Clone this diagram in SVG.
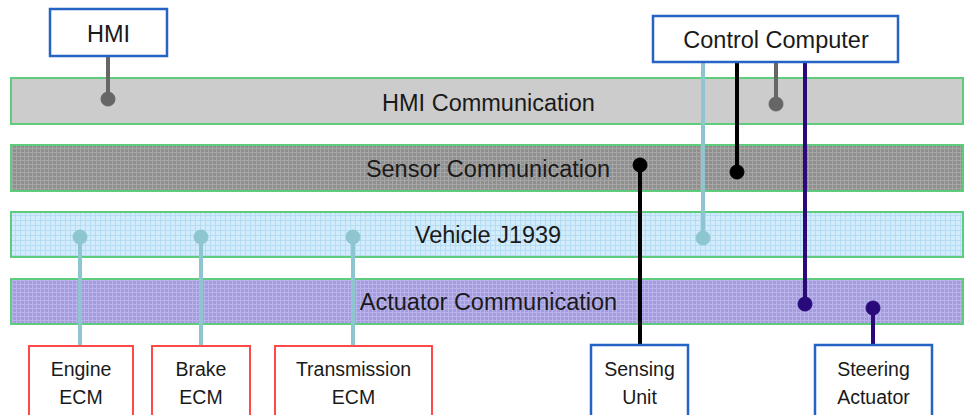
<svg xmlns="http://www.w3.org/2000/svg" width="964" height="415" viewBox="0 0 964 415">
<defs>
<pattern id="pSensor" width="4" height="4" patternUnits="userSpaceOnUse">
<rect width="4" height="4" fill="#8f8f8f"/>
<path d="M0 0.5H4M0.5 0V4" stroke="#a6a6a6" stroke-width="1"/>
</pattern>
<pattern id="pVehicle" width="5" height="5" patternUnits="userSpaceOnUse">
<rect width="5" height="5" fill="#d2ecfb"/>
<path d="M0 0.5H5M0.5 0V5" stroke="#b6dcf3" stroke-width="1"/>
</pattern>
<pattern id="pAct" width="4" height="4" patternUnits="userSpaceOnUse">
<rect width="4" height="4" fill="#a49ce0"/>
<path d="M0 0.5H4M0.5 0V4" stroke="#b9b3ea" stroke-width="1"/>
</pattern>
</defs>
<style>
.bar{stroke:#5fcb7d;stroke-width:2}
.bbox{fill:#fff;stroke:#2563c4;stroke-width:2.5}
.rbox{fill:#fff;stroke:#ff4848;stroke-width:2}
.t{font-family:"Liberation Sans",Arial,sans-serif;font-size:23.5px;fill:#1a1a1a;text-anchor:middle}
.s{font-family:"Liberation Sans",Arial,sans-serif;font-size:19.5px;fill:#1a1a1a;text-anchor:middle}
.c{fill:none;stroke-width:4}
</style>
<g id="bus-hmi"><rect class="bar" x="11" y="78" width="952" height="46" fill="#cccccc"/><text class="t" x="488.5" y="111">HMI Communication</text></g>
<g id="bus-sensor"><rect class="bar" x="11" y="145" width="952" height="46" fill="url(#pSensor)"/><text class="t" x="488" y="177">Sensor Communication</text></g>
<g id="bus-vehicle"><rect class="bar" x="11" y="212" width="952" height="45" fill="url(#pVehicle)"/><text class="t" x="488" y="243">Vehicle J1939</text></g>
<g id="bus-actuator"><rect class="bar" x="11" y="279" width="952" height="45" fill="url(#pAct)"/><text class="t" x="488.5" y="310">Actuator Communication</text></g>
<g id="connectors">
<g stroke="#666666" fill="#666666"><line class="c" x1="108" y1="56" x2="108" y2="99"/><circle cx="108" cy="99" r="7"/>
<line class="c" x1="776" y1="62" x2="776" y2="104"/><circle cx="776" cy="104" r="7"/></g>
<g stroke="#8ec6cf" fill="#8ec6cf">
<line class="c" x1="80" y1="346" x2="80" y2="237"/><circle cx="80" cy="237" r="7"/>
<line class="c" x1="201" y1="346" x2="201" y2="237"/><circle cx="201" cy="237" r="7"/>
<line class="c" x1="353" y1="346" x2="353" y2="237"/><circle cx="353" cy="237" r="7"/>
<line class="c" x1="703" y1="62" x2="703" y2="238"/><circle cx="703" cy="238" r="7"/></g>
<g stroke="#000000" fill="#000000">
<line class="c" x1="737" y1="62" x2="737" y2="172"/><circle cx="737" cy="172" r="7"/>
<line class="c" x1="640" y1="345" x2="640" y2="165"/><circle cx="640" cy="165" r="7"/></g>
<g stroke="#2a0a7a" fill="#2a0a7a">
<line class="c" x1="805" y1="62" x2="805" y2="304"/><circle cx="805" cy="304" r="7"/>
<line class="c" x1="873" y1="345" x2="873" y2="308"/><circle cx="873" cy="308" r="7"/></g>
</g>
<g id="hmi"><rect class="bbox" x="50" y="9" width="117" height="47"/><text class="t" x="108.5" y="42">HMI</text></g>
<g id="control-computer"><rect class="bbox" x="653" y="16" width="245" height="46"/><text class="t" x="776" y="48">Control Computer</text></g>
<g id="engine-ecm"><rect class="rbox" x="29" y="346" width="104" height="80"/><text class="s" x="81" y="376">Engine</text><text class="s" x="81" y="404">ECM</text></g>
<g id="brake-ecm"><rect class="rbox" x="152" y="346" width="98" height="80"/><text class="s" x="201" y="376">Brake</text><text class="s" x="201" y="404">ECM</text></g>
<g id="transmission-ecm"><rect class="rbox" x="275" y="346" width="157" height="80"/><text class="s" x="353.5" y="376">Transmission</text><text class="s" x="353.5" y="404">ECM</text></g>
<g id="sensing-unit"><rect class="bbox" x="591" y="345" width="97" height="80"/><text class="s" x="639.5" y="376">Sensing</text><text class="s" x="639.5" y="404">Unit</text></g>
<g id="steering-actuator"><rect class="bbox" x="815" y="345" width="117" height="80"/><text class="s" x="873.5" y="376">Steering</text><text class="s" x="873.5" y="404">Actuator</text></g>
</svg>
